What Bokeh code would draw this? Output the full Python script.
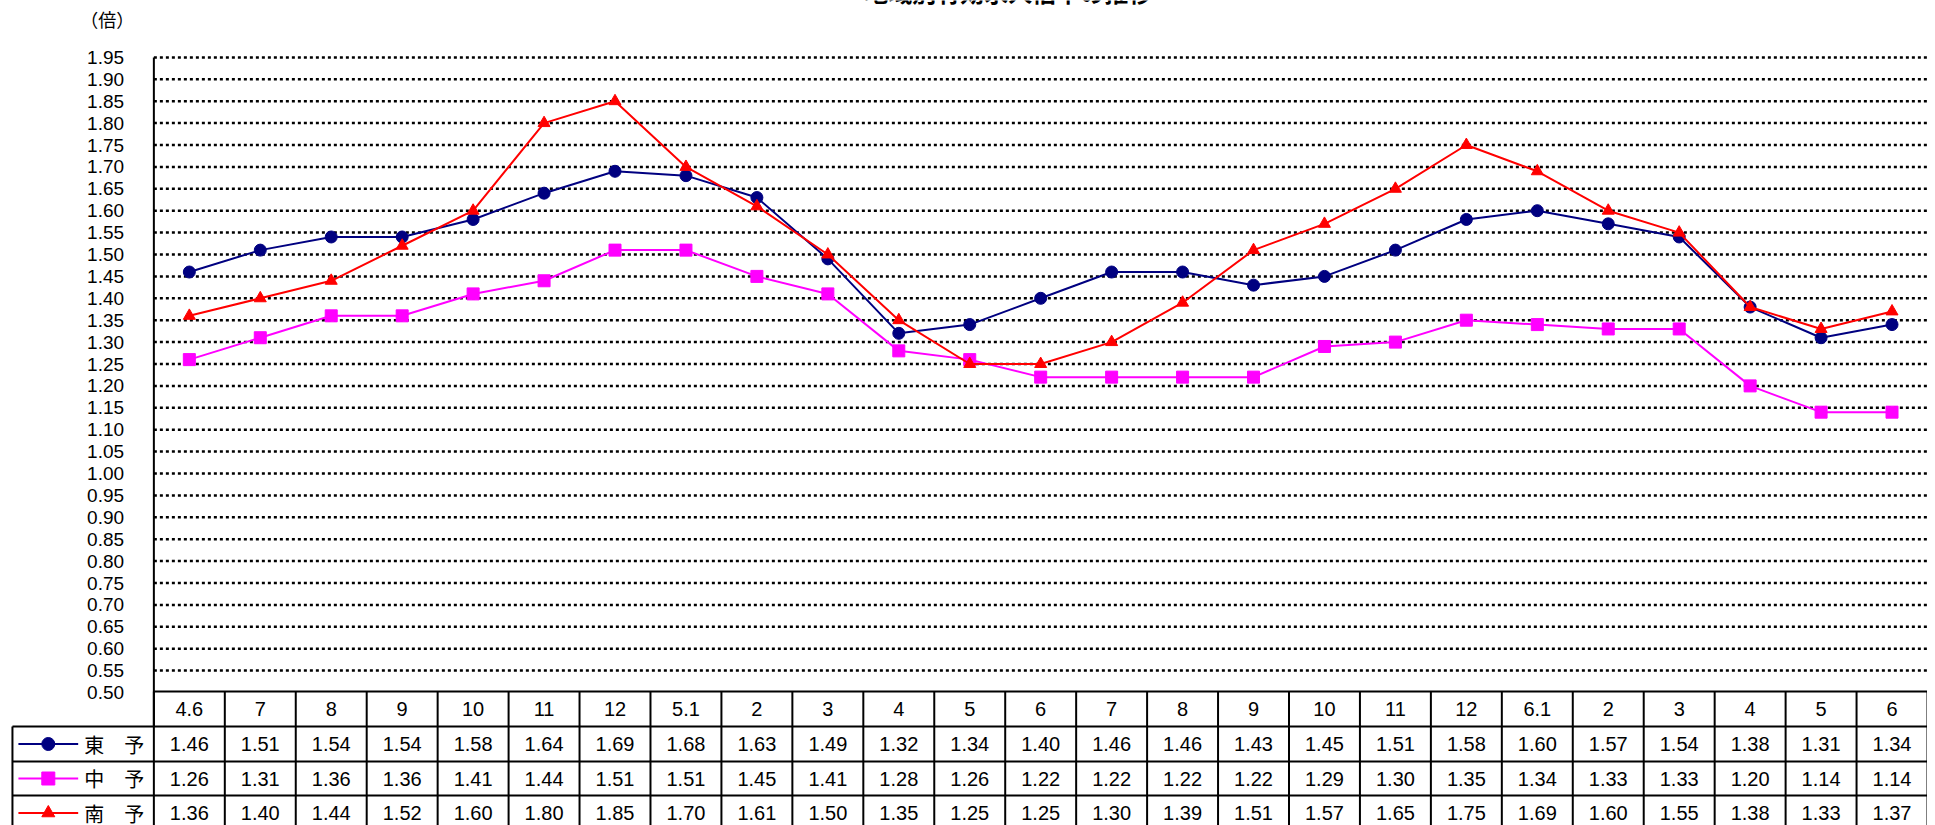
from bokeh.plotting import figure
from bokeh.embed import file_html
from bokeh.resources import INLINE
from bokeh.core.properties import value
from bokeh.models import Range1d

months = ["4.6","7","8","9","10","11","12","5.1","2","3","4","5","6","7","8","9","10","11","12","6.1","2","3","4","5","6"]
toyo = [1.46,1.51,1.54,1.54,1.58,1.64,1.69,1.68,1.63,1.49,1.32,1.34,1.40,1.46,1.46,1.43,1.45,1.51,1.58,1.60,1.57,1.54,1.38,1.31,1.34]
chuyo = [1.26,1.31,1.36,1.36,1.41,1.44,1.51,1.51,1.45,1.41,1.28,1.26,1.22,1.22,1.22,1.22,1.29,1.30,1.35,1.34,1.33,1.33,1.20,1.14,1.14]
nanyo = [1.36,1.40,1.44,1.52,1.60,1.80,1.85,1.70,1.61,1.50,1.35,1.25,1.25,1.30,1.39,1.51,1.57,1.65,1.75,1.69,1.60,1.55,1.38,1.33,1.37]
series_names = ["東　予", "中　予", "南　予"]
yticks = [round(0.50 + 0.05 * i, 2) for i in range(30)]

FONT = value("Liberation Sans")
N = len(months)
colw = (1935 - 154) / N
ppu = 438.0
def py(p):  # page y -> data y
    return 0.50 - (p - 694) / ppu

W, H = 1927, 840
p = figure(width=W, height=H, output_backend="svg", toolbar_location=None,
           min_border=0, x_range=Range1d(-154 / colw, N), y_range=Range1d(py(842), py(2)))
p.xaxis.visible = False
p.yaxis.visible = False
p.xgrid.visible = False
p.ygrid.visible = False
p.outline_line_color = None

xs = [i + 0.5 for i in range(N)]
gy = [t for t in yticks if t > 0.5]
p.segment(x0=[0]*len(gy), x1=[N]*len(gy), y0=gy, y1=gy, line_color="black", line_width=2.5, line_dash="3 3")
p.segment(x0=[0], x1=[0], y0=[1.95], y1=[py(728)], line_color="black", line_width=2)
p.text(x=[-0.42]*len(yticks), y=yticks, text=[f"{t:.2f}" for t in yticks], text_align="right",
       text_baseline="middle", text_font=FONT, text_font_size="19px", text_color="black")
p.text(x=[(80 - 154) / colw], y=[py(20)], text=["（倍）"], text_baseline="middle", text_font=value("Noto Sans CJK JP"),
       text_font_size="18px")
p.text(x=[(1012 - 154) / colw], y=[py(10)], text=["地域別有効求人倍率の推移"], text_align="center",
       text_baseline="bottom", text_font=value("Noto Sans CJK JP"), text_font_size="24px", text_font_style="bold")

colors = ["#000080", "#FF00FF", "#FF0000"]
markers = ["circle", "square", "triangle"]
data = [toyo, chuyo, nanyo]
for d, c, m in zip(data, colors, markers):
    p.line(xs, d, line_color=c, line_width=2)
    p.scatter(xs, d, marker=m, size=12, fill_color=c, line_color=c)

rows = [693, 728, 763, 797, 832]
ry = [py(r) for r in rows]
left = -142 / colw
p.segment(x0=[0], x1=[N], y0=[ry[0]], y1=[ry[0]], line_color="black", line_width=2)
p.segment(x0=[left]*4, x1=[N]*4, y0=ry[1:], y1=ry[1:], line_color="black", line_width=2)
vx = list(range(0, N + 1))
p.segment(x0=vx, x1=vx, y0=[ry[0]]*len(vx), y1=[ry[-1]]*len(vx), line_color="black", line_width=2)
p.segment(x0=[left], x1=[left], y0=[ry[1]], y1=[ry[-1]], line_color="black", line_width=2)
p.text(x=xs, y=[(ry[0] + ry[1]) / 2]*N, text=months, text_align="center", text_baseline="middle",
       text_font=FONT, text_font_size="20px")
for k, (d, c, m, nm) in enumerate(zip(data, colors, markers, series_names)):
    yc = (ry[k + 1] + ry[k + 2]) / 2
    p.text(x=xs, y=[yc]*N, text=[f"{v:.2f}" for v in d], text_align="center", text_baseline="middle",
           text_font=FONT, text_font_size="20px")
    lx0, lx1 = left + 6 / colw, left + 66 / colw
    p.segment(x0=[lx0], x1=[lx1], y0=[yc], y1=[yc], line_color=c, line_width=2)
    p.scatter([(lx0 + lx1) / 2], [yc], marker=m, size=13, fill_color=c, line_color=c)
    p.text(x=[left + 72 / colw], y=[yc], text=[nm], text_baseline="middle",
           text_font=value("Noto Sans CJK JP"), text_font_size="20px")

open("out.html", "w").write(file_html(p, INLINE))
